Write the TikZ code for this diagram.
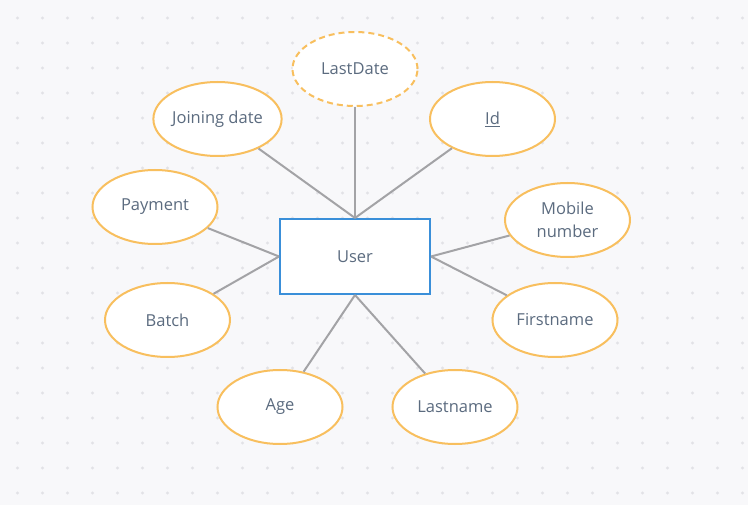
\documentclass[tikz,border=0pt]{standalone}
\usepackage{fontspec}
\setmainfont{Open Sans}
\usetikzlibrary{shapes.geometric}
\definecolor{bgc}{HTML}{F8F8FA}
\definecolor{dotc}{HTML}{E2E2E6}
\definecolor{attrc}{HTML}{F8BF5E}
\definecolor{entc}{HTML}{3A8FD9}
\definecolor{linec}{HTML}{A3A3A6}
\definecolor{txtc}{HTML}{5B6B7F}
\begin{document}
\begin{tikzpicture}[x=1pt,y=-1pt,
  attr/.style={ellipse,draw=attrc,line width=2pt,fill=white,minimum width=125pt,minimum height=74pt,inner sep=0pt,text=txtc,font=\fontsize{16.5}{23}\selectfont,align=center},
  ent/.style={rectangle,draw=entc,line width=2pt,fill=white,minimum width=150pt,minimum height=75pt,inner sep=0pt,text=txtc,font=\fontsize{16.5}{23}\selectfont},
  link/.style={draw=linec,line width=2pt}]
\fill[bgc] (0,0) rectangle (748,505);
\useasboundingbox (0,0) rectangle (748,505);
\foreach \i in {0,...,29}{\foreach \j in {0,...,19}{\fill[dotc] (17.5+25*\i,18+25*\j) circle (1.6);}}
\node[ent] (user) at (355,256.5) {User};
\node[attr,dashed,dash pattern=on 6pt off 4pt] (lastdate) at (355,69) {LastDate};
\node[attr] (joining) at (217.5,119) {Joining date};
\node[attr] (id) at (492.5,119) {\underline{Id}};
\node[attr] (payment) at (155,207) {Payment};
\node[attr] (mobile) at (567.5,220) {Mobile\\number};
\node[attr] (batch) at (167.5,320) {Batch};
\node[attr] (first) at (555,320) {Firstname};
\node[attr] (age) at (280,407) {Age};
\node[attr] (last) at (455,407) {Lastname};
\draw[link] (lastdate) -- (user.north);
\draw[link] (joining) -- (user.north);
\draw[link] (id) -- (user.north);
\draw[link] (payment) -- (user.west);
\draw[link] (batch) -- (user.west);
\draw[link] (age) -- (user.south);
\draw[link] (last) -- (user.south);
\draw[link] (mobile) -- (user.east);
\draw[link] (first) -- (user.east);
\end{tikzpicture}
\end{document}
